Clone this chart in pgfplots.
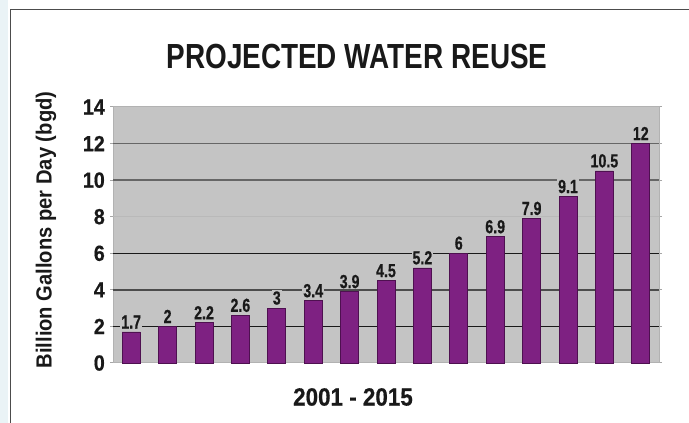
\documentclass[border=0pt]{standalone}
\usepackage{fontspec}
\setmainfont{Liberation Sans}[FakeStretch=0.8]
\newfontfamily\tickfont{Liberation Sans}[FakeStretch=0.9, BoldFeatures={FakeBold=0.6}]
\newfontfamily\ylabfont{Liberation Sans}[FakeStretch=0.92]
\newfontfamily\barfont{Liberation Sans}[FakeStretch=0.75, BoldFeatures={FakeBold=0.6}]
\usepackage{pgfplots}
\pgfplotsset{compat=1.18}
\definecolor{plotbg}{HTML}{C4C4C4}
\definecolor{barfill}{HTML}{7E2182}
\definecolor{barline}{HTML}{4E1050}
\definecolor{strip}{HTML}{EAF3F6}
\begin{document}
\begin{tikzpicture}
\path[use as bounding box] (0,0) rectangle (689bp,423bp);
\fill[strip] (0,0) rectangle (8bp,423bp);
\draw[black!70, line width=1bp] (10bp,0) -- (10bp,413bp) -- (689bp,413bp);
\node[font=\bfseries\fontsize{35}{40}\selectfont, text=black!90] at (357bp,366bp) {PROJECTED WATER REUSE};
\node[font=\ylabfont\bfseries\fontsize{22}{24}\selectfont, text=black!90, rotate=90] at (46bp,193bp) {Billion Gallons per Day (bgd)};
\node[font=\tickfont\bfseries\fontsize{25}{28}\selectfont, text=black!90] at (353bp,26bp) {2001 - 2015};
\begin{axis}[
    at={(113bp,60bp)}, anchor=south west,
    scale only axis,
    width=546bp, height=256bp,
    xmin=0.5, xmax=15.5,
    ymin=0, ymax=14,
    ytick={0,2,...,14},
    xtick=\empty,
    axis background/.style={fill=plotbg},
    axis line style={gray!60, line width=1bp},
    major tick length=3bp,
    tick align=outside,
    y tick style={gray!70, line width=1bp},
    /pgf/number format/assume math mode=true,
    yticklabel={\tickfont\bfseries\fontsize{22}{24}\selectfont\pgfmathprintnumber{\tick}},
    yticklabel style={text=black!90, inner sep=2bp, xshift=-3bp},
    clip=false,
]
% gridlines
\draw[gray!55, line width=1.5bp] (axis cs:0.5,8) -- (axis cs:15.5,8);
\draw[black!60, line width=1.5bp] (axis cs:0.5,10) -- (axis cs:15.5,10);
\draw[black!60, line width=1.5bp] (axis cs:0.5,12) -- (axis cs:15.5,12);
\draw[black!70, line width=1.5bp] (axis cs:0.5,4) -- (axis cs:15.5,4);
\draw[black!90, line width=1.5bp] (axis cs:0.5,2) -- (axis cs:15.5,2);
\draw[black!90, line width=1.5bp] (axis cs:0.5,6) -- (axis cs:15.5,6);
\addplot[ybar, bar width=18bp, fill=barfill, draw=barline, line width=0.8bp,
    point meta=explicit symbolic,
    nodes near coords,
    every node near coord/.style={font=\barfont\bfseries\fontsize{19}{21}\selectfont, text=black!90, fill=plotbg, inner sep=1bp, anchor=south, yshift=2bp}]
coordinates {
(1,1.7) [1.7]
(2,2) [2]
(3,2.2) [2.2]
(4,2.6) [2.6]
(5,3) [3]
(6,3.4) [3.4]
(7,3.9) [3.9]
(8,4.5) [4.5]
(9,5.2) [5.2]
(10,6) [6]
(11,6.9) [6.9]
(12,7.9) [7.9]
(13,9.1) [9.1]
(14,10.5) [10.5]
(15,12) [12]
};
\end{axis}
\end{tikzpicture}
\end{document}
